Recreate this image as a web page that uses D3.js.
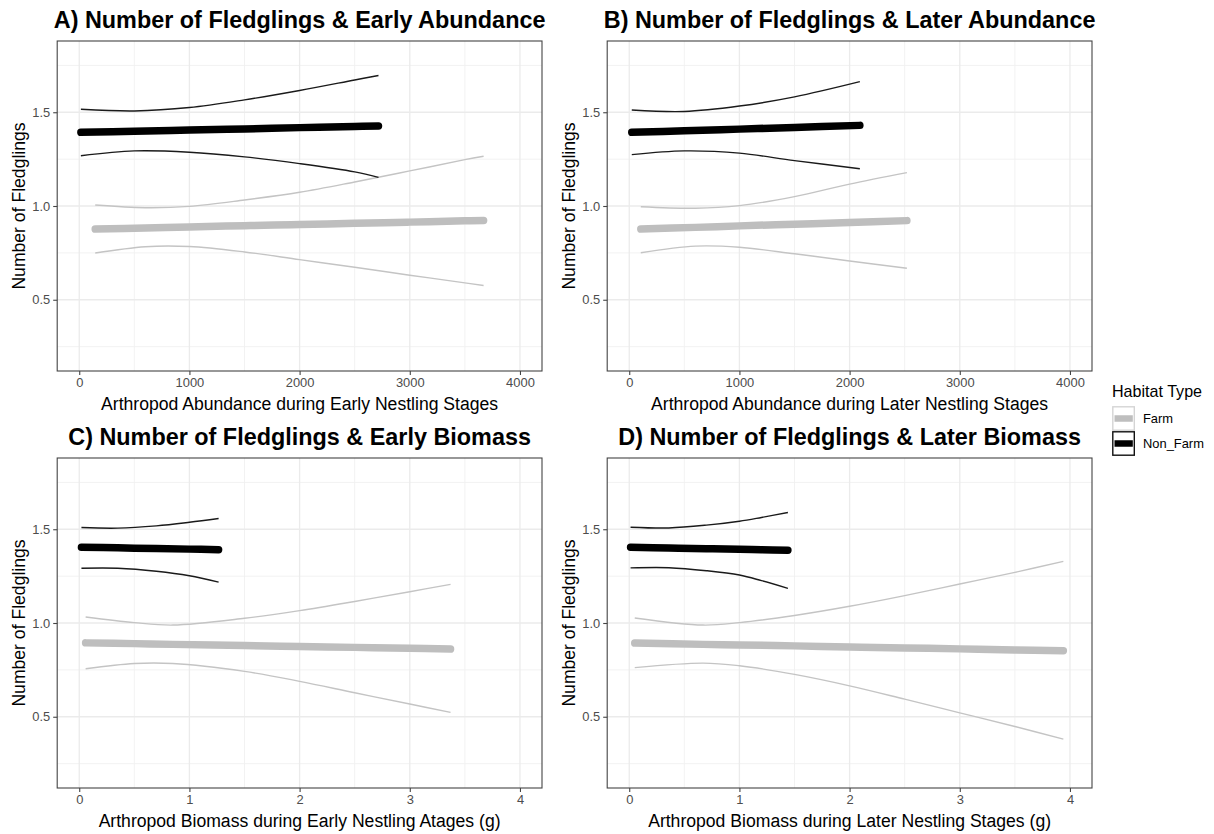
<!DOCTYPE html>
<html lang="en">
  <head>
    <meta charset="utf-8">
    <title>Fledglings</title>
    <script src="https://d3js.org/d3.v7.min.js"></script>
    <style>
      body { margin: 0; background: #fff; }
      svg { font-family: "Liberation Sans", Arial, sans-serif; }
    </style>
  </head>
  <body>
    <script>
// panel titles and axis labels
const panelTitles = [
  'A) Number of Fledglings & Early Abundance',
  'B) Number of Fledglings & Later Abundance',
  'C) Number of Fledglings & Early Biomass',
  'D) Number of Fledglings & Later Biomass'
]
const xLabels = [
  'Arthropod Abundance during Early Nestling Stages',
  'Arthropod Abundance during Later Nestling Stages',
  'Arthropod Biomass during Early Nestling Atages (g)',
  'Arthropod Biomass during Later Nestling Stages (g)'
]
const yLabel = 'Number of Fledglings'
const abundanceTicks = [0, 1000, 2000, 3000, 4000]
const biomassTicks = [0, 1, 2, 3, 4]
const yTicks = [0.5, 1.0, 1.5]
const habitats = ['Farm', 'Non_Farm']

// A) early abundance
const aNonFarmX = [15, 500, 1000, 1500, 2000, 2500, 2716]
const aNonFarmFit = [1.393, 1.399, 1.405, 1.411, 1.418, 1.424, 1.427]
const aNonFarmHi = [1.516, 1.507, 1.525, 1.566, 1.616, 1.672, 1.696]
const aNonFarmLo = [1.268, 1.294, 1.287, 1.262, 1.226, 1.182, 1.153]
const aFarmX = [145, 600, 1000, 1500, 2000, 2500, 3000, 3500, 3670]
const aFarmFit = [0.877, 0.883, 0.888, 0.895, 0.901, 0.908, 0.914, 0.921, 0.923]
const aFarmHi = [1.005, 0.991, 0.998, 1.032, 1.073, 1.128, 1.187, 1.247, 1.265]
const aFarmLo = [0.749, 0.783, 0.784, 0.755, 0.714, 0.673, 0.631, 0.590, 0.576]

// B) later abundance
const bNonFarmX = [23, 500, 1000, 1500, 2093]
const bNonFarmFit = [1.393, 1.401, 1.410, 1.419, 1.430]
const bNonFarmHi = [1.512, 1.504, 1.533, 1.582, 1.663]
const bNonFarmLo = [1.274, 1.294, 1.282, 1.242, 1.199]
const bFarmX = [105, 600, 1000, 1500, 2000, 2520]
const bFarmFit = [0.877, 0.886, 0.894, 0.903, 0.912, 0.922]
const bFarmHi = [0.996, 0.988, 1.002, 1.050, 1.117, 1.178]
const bFarmLo = [0.751, 0.786, 0.780, 0.745, 0.707, 0.668]

// C) early biomass
const cNonFarmX = [0.02, 0.35, 0.7, 1.0, 1.265]
const cNonFarmFit = [1.404, 1.401, 1.397, 1.394, 1.391]
const cNonFarmHi = [1.509, 1.506, 1.518, 1.537, 1.557]
const cNonFarmLo = [1.292, 1.292, 1.276, 1.252, 1.218]
const cFarmX = [0.058, 0.5, 0.85, 1.5, 2, 2.5, 3, 3.37]
const cFarmFit = [0.894, 0.890, 0.886, 0.880, 0.875, 0.870, 0.865, 0.861]
const cFarmHi = [1.032, 1.002, 0.989, 1.025, 1.066, 1.115, 1.167, 1.206]
const cFarmLo = [0.756, 0.784, 0.784, 0.742, 0.689, 0.628, 0.568, 0.523]

// D) later biomass
const dNonFarmX = [0.012, 0.36, 0.7, 1.0, 1.2, 1.44]
const dNonFarmFit = [1.404, 1.400, 1.396, 1.393, 1.391, 1.388]
const dNonFarmHi = [1.511, 1.507, 1.522, 1.543, 1.563, 1.589]
const dNonFarmLo = [1.294, 1.295, 1.279, 1.256, 1.226, 1.185]
const dFarmX = [0.05, 0.67, 1.0, 1.5, 2, 2.5, 3, 3.5, 3.94]
const dFarmFit = [0.893, 0.886, 0.883, 0.878, 0.872, 0.867, 0.862, 0.856, 0.852]
const dFarmHi = [1.027, 0.989, 1.002, 1.040, 1.089, 1.146, 1.208, 1.270, 1.329]
const dFarmLo = [0.762, 0.786, 0.772, 0.726, 0.665, 0.594, 0.521, 0.448, 0.381]

const series = (x, fit, hi, lo) => ({ x, fit, hi, lo })
const panels = [
  { ticks: abundanceTicks, farm: series(aFarmX, aFarmFit, aFarmHi, aFarmLo), nonFarm: series(aNonFarmX, aNonFarmFit, aNonFarmHi, aNonFarmLo) },
  { ticks: abundanceTicks, farm: series(bFarmX, bFarmFit, bFarmHi, bFarmLo), nonFarm: series(bNonFarmX, bNonFarmFit, bNonFarmHi, bNonFarmLo) },
  { ticks: biomassTicks, farm: series(cFarmX, cFarmFit, cFarmHi, cFarmLo), nonFarm: series(cNonFarmX, cNonFarmFit, cNonFarmHi, cNonFarmLo) },
  { ticks: biomassTicks, farm: series(dFarmX, dFarmFit, dFarmHi, dFarmLo), nonFarm: series(dNonFarmX, dNonFarmFit, dNonFarmHi, dNonFarmLo) }
]

const colors = {
  Farm: { fit: '#bebebe', ci: '#c4c4c4', key: '#d4d4d4' },
  Non_Farm: { fit: '#000000', ci: '#1a1a1a', key: '#111111' }
}

const width = 1214, height = 834
const cell = { w: 550, h: 417 }
const margin = { left: 57.2, right: 8, top: 41, bottom: 46 }

const svg = d3.select('body').append('svg')
  .attr('width', width)
  .attr('height', height)

panels.forEach((p, i) => {
  const cx = (i % 2) * cell.w
  const cy = Math.floor(i / 2) * cell.h
  const left = cx + margin.left
  const right = cx + cell.w - margin.right
  const top = cy + margin.top
  const bottom = cy + cell.h - margin.bottom

  const maxT = p.ticks[p.ticks.length - 1]
  const pad = maxT * 0.05
  const x = d3.scaleLinear().domain([-pad, maxT + pad]).range([left, right])
  const y = d3.scaleLinear().domain([0.12, 1.88]).range([bottom, top])

  const g = svg.append('g')

  // grid
  const step = p.ticks[1] - p.ticks[0]
  const xMinor = p.ticks.slice(0, -1).map(t => t + step / 2)
  const yMinor = [0.25, 0.75, 1.25, 1.75]
  g.selectAll('.xminor').data(xMinor).join('line')
    .attr('x1', d => x(d)).attr('x2', d => x(d))
    .attr('y1', top).attr('y2', bottom)
    .attr('stroke', '#f1f1f1').attr('stroke-width', 0.9)
  g.selectAll('.yminor').data(yMinor).join('line')
    .attr('x1', left).attr('x2', right)
    .attr('y1', d => y(d)).attr('y2', d => y(d))
    .attr('stroke', '#f1f1f1').attr('stroke-width', 0.9)
  g.selectAll('.xmajor').data(p.ticks).join('line')
    .attr('x1', d => x(d)).attr('x2', d => x(d))
    .attr('y1', top).attr('y2', bottom)
    .attr('stroke', '#ebebeb').attr('stroke-width', 1.3)
  g.selectAll('.ymajor').data(yTicks).join('line')
    .attr('x1', left).attr('x2', right)
    .attr('y1', d => y(d)).attr('y2', d => y(d))
    .attr('stroke', '#ebebeb').attr('stroke-width', 1.3)

  const line = (xs, ys) => d3.line()
    .x((d, j) => x(xs[j]))
    .y(d => y(d))
    .curve(d3.curveCatmullRom.alpha(0.5))(ys)

  const drawGroup = (s, c) => {
    g.append('path').attr('d', line(s.x, s.hi))
      .attr('fill', 'none').attr('stroke', c.ci).attr('stroke-width', 1.4)
    g.append('path').attr('d', line(s.x, s.lo))
      .attr('fill', 'none').attr('stroke', c.ci).attr('stroke-width', 1.4)
    g.append('path').attr('d', line(s.x, s.fit))
      .attr('fill', 'none').attr('stroke', c.fit).attr('stroke-width', 7.5)
      .attr('stroke-linecap', 'round')
  }
  drawGroup(p.farm, colors.Farm)
  drawGroup(p.nonFarm, colors.Non_Farm)

  // border
  g.append('rect')
    .attr('x', left).attr('y', top)
    .attr('width', right - left).attr('height', bottom - top)
    .attr('fill', 'none').attr('stroke', '#444').attr('stroke-width', 1.1)

  // axes
  const xAxis = d3.axisBottom(x).tickValues(p.ticks).tickSize(4).tickPadding(3)
    .tickFormat(d3.format('d'))
  const xg = g.append('g').attr('transform', `translate(0, ${bottom})`).call(xAxis)
  const yAxis = d3.axisLeft(y).tickValues(yTicks).tickSize(4).tickPadding(3)
    .tickFormat(d3.format('.1f'))
  const yg = g.append('g').attr('transform', `translate(${left}, 0)`).call(yAxis)
  ;[xg, yg].forEach(a => {
    a.select('.domain').remove()
    a.selectAll('line').attr('stroke', '#444').attr('stroke-width', 1.1)
    a.selectAll('text').attr('fill', '#4d4d4d')
      .style('font-size', '12.9px').style('font-family', '"Liberation Sans", Arial, sans-serif')
  })

  // titles
  g.append('text')
    .attr('x', (left + right) / 2).attr('y', cy + 28)
    .attr('text-anchor', 'middle')
    .style('font-size', '23.4px').style('font-weight', 'bold')
    .text(panelTitles[i])
  g.append('text')
    .attr('x', (left + right) / 2).attr('y', bottom + 38.5)
    .attr('text-anchor', 'middle')
    .style('font-size', '17.6px')
    .text(xLabels[i])
  g.append('text')
    .attr('transform', `translate(${cx + 24.5}, ${(top + bottom) / 2}) rotate(-90)`)
    .attr('text-anchor', 'middle')
    .style('font-size', '17.6px')
    .text(yLabel)
})

// legend
const legend = svg.append('g').attr('transform', 'translate(1112, 0)')
legend.append('text').attr('x', 0).attr('y', 397)
  .style('font-size', '16.1px').text('Habitat Type')
const keyY = d3.scaleBand().domain(habitats).range([406, 456])
habitats.forEach(h => {
  const ky = keyY(h)
  const kh = keyY.bandwidth()
  legend.append('rect')
    .attr('x', 0.8).attr('y', ky + 0.8)
    .attr('width', 21.5).attr('height', kh - 1.6)
    .attr('fill', '#fff').attr('stroke', colors[h].key).attr('stroke-width', 1.4)
  legend.append('line')
    .attr('x1', 2.5).attr('x2', 20.8)
    .attr('y1', ky + kh / 2).attr('y2', ky + kh / 2)
    .attr('stroke', colors[h].fit).attr('stroke-width', 6.5)
  legend.append('text')
    .attr('x', 31).attr('y', ky + kh / 2)
    .attr('dominant-baseline', 'central')
    .style('font-size', '12.9px')
    .text(h)
})
    </script>
  </body>
</html>
